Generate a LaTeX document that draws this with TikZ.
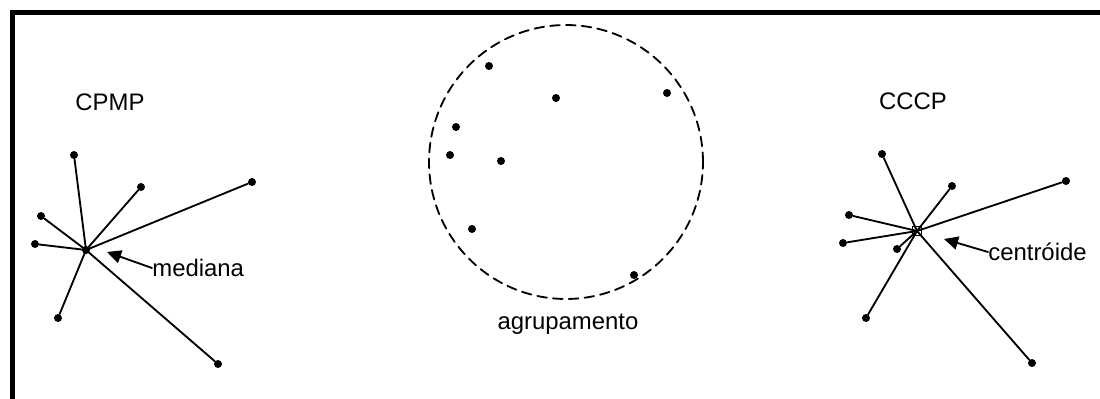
\documentclass[tikz,border=0pt]{standalone}
\usepackage{fontspec}
\setmainfont{Liberation Sans}
\usetikzlibrary{arrows.meta}

\begin{document}
\begin{tikzpicture}[
    x=0.02cm,y=-0.02cm,line cap=round,
    dot/.style={circle,fill=black,inner sep=0pt,minimum size=0.16cm},
    ray/.style={black,line width=1.05pt},
    lbl/.style={font=\fontsize{13.6}{16}\selectfont,inner sep=0pt},
    pointer/.style={-{Triangle[length=8pt,width=7.5pt]},line width=1.05pt},
    hull/.style={dashed,line width=1.05pt,dash pattern=on 5.5pt off 3.5pt}]
  \useasboundingbox (0,0) rectangle (1100,399);
  % --- marco (solo arriba e izquierda)
  \draw[line width=2.3pt,line cap=butt] (12.5,399) -- (12.5,12.5) -- (1100,12.5);

  % --- izquierda: CPMP con la mediana
  \node[lbl] (tcpmp) at (110,102) {CPMP};
  \node[dot] (med) at (86,250) {};
  \node[dot] (ma) at (74,155) {};
  \node[dot] (mb) at (141,187) {};
  \node[dot] (mc) at (252,182) {};
  \node[dot] (md) at (41,216) {};
  \node[dot] (me) at (35,244) {};
  \node[dot] (mf) at (58,318) {};
  \node[dot] (mg) at (218,364) {};
  \draw[ray] (med.center) -- (ma);
  \draw[ray] (med.center) -- (mb);
  \draw[ray] (med.center) -- (mc);
  \draw[ray] (med.center) -- (md);
  \draw[ray] (med.center) -- (me);
  \draw[ray] (med.center) -- (mf);
  \draw[ray] (med.center) -- (mg);
  \node[lbl,anchor=west] (tmed) at (152,268) {mediana};
  \coordinate (pmed) at (107,252);
  \draw[pointer] (tmed.west) -- (pmed);

  % --- centro: agrupamento
  \node[draw,hull,circle,minimum size=5.48cm,inner sep=0pt] (grupo) at (566,162) {};
  \node[dot] (ga) at (489,66) {};
  \node[dot] (gb) at (556,98) {};
  \node[dot] (gc) at (667,93) {};
  \node[dot] (gd) at (456,127) {};
  \node[dot] (ge) at (450,155) {};
  \node[dot] (gf) at (501,161) {};
  \node[dot] (gg) at (472,229) {};
  \node[dot] (gh) at (634,275) {};
  \node[lbl] (tgrupo) at (568,324) {agrupamento};

  % --- derecha: CCCP con el centroide
  \node[lbl] (tcccp) at (913,101) {CCCP};
  \coordinate (cen) at (917,231);
  \node[dot] (ca) at (882,154) {};
  \node[dot] (cb) at (952,186) {};
  \node[dot] (cc) at (1066,181) {};
  \node[dot] (cd) at (849,215) {};
  \node[dot] (ce) at (843,243) {};
  \node[dot] (cf) at (897,249) {};
  \node[dot] (cg) at (866,318) {};
  \node[dot] (ch) at (1032,363) {};
  \draw[ray] (cen) -- (ca);
  \draw[ray] (cen) -- (cb);
  \draw[ray] (cen) -- (cc);
  \draw[ray] (cen) -- (cd);
  \draw[ray] (cen) -- (ce);
  \draw[ray] (cen) -- (cf);
  \draw[ray] (cen) -- (cg);
  \draw[ray] (cen) -- (ch);
  \node[draw,line width=0.9pt,inner sep=0pt,minimum size=0.18cm] (sq) at (cen) {};
  \node[lbl,anchor=west] (tcen) at (988,252) {centróide};
  \coordinate (pcen) at (944,239);
  \draw[pointer] (tcen.west) -- (pcen);
\end{tikzpicture}
\end{document}
